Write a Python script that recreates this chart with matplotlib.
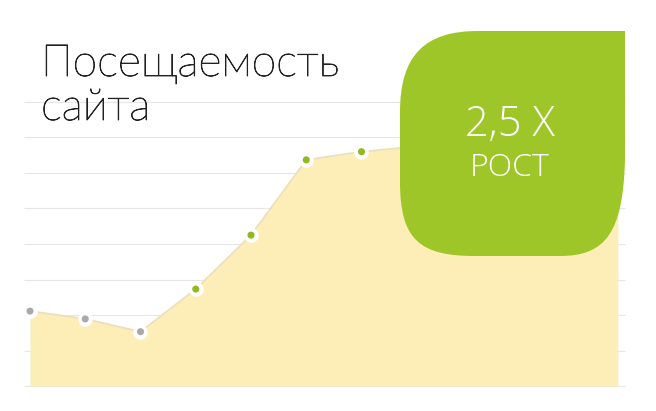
import numpy as np
import matplotlib.pyplot as plt
import matplotlib.patheffects as pe
from matplotlib.path import Path
from matplotlib.patches import PathPatch

# data (grid units)
x_vals = [0, 1, 2, 3, 4, 5, 6, 7, 8, 9, 10, 10.64]
y_vals = [2.11, 1.89, 1.53, 2.73, 4.25, 6.37, 6.6, 6.75, 6.9, 7.1, 7.3, 7.4]
dot_colors = ["#a9a9a9", "#a9a9a9", "#a9a9a9", "#8fbb1f", "#8fbb1f", "#8fbb1f", "#8fbb1f"]
grid_levels = [0, 1, 2, 3, 4, 5, 6, 7, 8]

title_lines = ["Посещаемость", "сайта"]
badge_top = "2,5 X"
badge_bottom = "РОСТ"

W, H = 656, 411
fig = plt.figure(figsize=(W/100, H/100), dpi=100)
fig.patch.set_facecolor("white")

ax = fig.add_axes([0, 0, 1, 1])
px_x0, px_dx = 30, 55.25
px_y0, px_dy = 386, 35.5
ax.set_xlim(-px_x0/px_dx, (W-px_x0)/px_dx)
ax.set_ylim((px_y0-H)/px_dy, px_y0/px_dy)
ax.axis("off")

gx0 = (24-px_x0)/px_dx
gx1 = (625-px_x0)/px_dx
ax.hlines(grid_levels, gx0, gx1, color="#e6e6e6", lw=0.8, zorder=1)

ax.fill_between(x_vals, 0, y_vals, color="#fdedb7", lw=0, zorder=2)
ax.plot(x_vals, y_vals, color="#ece0bb", lw=1.3, zorder=3)

n = len(dot_colors)
ax.scatter(x_vals[:n], y_vals[:n], s=110, color="white", lw=0, zorder=4)
ax.scatter(x_vals[:n], y_vals[:n], s=26, color=dot_colors, lw=0, zorder=5)

# overlay in pixel coords
ov = fig.add_axes([0, 0, 1, 1])
ov.set_xlim(0, W)
ov.set_ylim(H, 0)
ov.axis("off")
ov.patch.set_alpha(0)

verts = [
    (625, 31), (478, 31),
    (425, 31), (400, 55), (400, 112),
    (400, 182),
    (400, 240), (420, 256), (475, 256),
    (560, 256),
    (606, 256), (623, 232), (625, 160),
    (625, 31),
]
codes = [Path.MOVETO, Path.LINETO,
         Path.CURVE4, Path.CURVE4, Path.CURVE4,
         Path.LINETO,
         Path.CURVE4, Path.CURVE4, Path.CURVE4,
         Path.LINETO,
         Path.CURVE4, Path.CURVE4, Path.CURVE4,
         Path.CLOSEPOLY]
ov.add_patch(PathPatch(Path(verts, codes), facecolor="#9fc628", edgecolor="none", zorder=6))

ov.text(510, 136, badge_top, color="white", fontsize=30, family=["Open Sans", "DejaVu Sans"],
        weight="light", ha="center", va="baseline", zorder=7)
ov.text(510, 176, badge_bottom, color="white", fontsize=23, family=["Open Sans", "DejaVu Sans"],
        weight="light", ha="center", va="baseline", zorder=7)

title_font = ["Lato", "Open Sans", "DejaVu Sans"]
thicker = [pe.withStroke(linewidth=0.6, foreground="#222222")]
ov.text(41, 76, title_lines[0], color="#222222", fontsize=32, family=title_font,
        weight="light", ha="left", va="baseline", zorder=7, path_effects=thicker)
ov.text(41, 120, title_lines[1], color="#222222", fontsize=32, family=title_font,
        weight="light", ha="left", va="baseline", zorder=7, path_effects=thicker)

fig.savefig("out.png", dpi=100)
